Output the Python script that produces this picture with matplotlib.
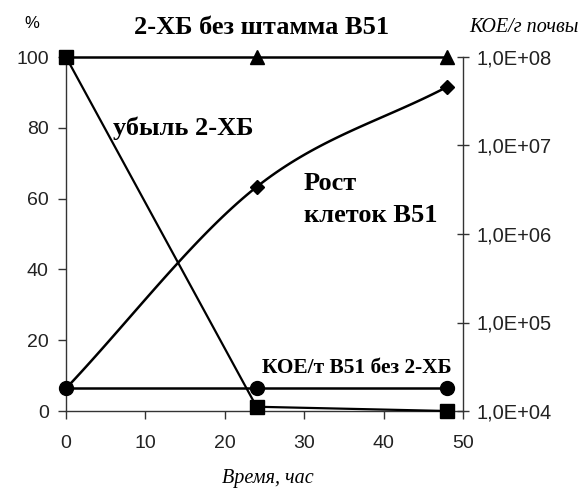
import numpy as np
import matplotlib
matplotlib.use("Agg")
import matplotlib.pyplot as plt
from matplotlib.ticker import FixedLocator, FixedFormatter

# ---- data ----
time_h = [0, 24, 48]
loss_2hb = [100, 1.2, 0.0]          # % (left axis), убыль 2-ХБ
control_2hb = [100, 100, 100]       # % (left axis), 2-ХБ без штамма B51
growth_b51 = [1.8e4, 3.4e6, 4.6e7]  # КОЕ/г (right axis), Рост клеток B51
control_b51 = [1.8e4, 1.8e4, 1.8e4] # КОЕ/г (right axis), B51 без 2-ХБ

left_ticks = [0, 20, 40, 60, 80, 100]
x_ticks = [0, 10, 20, 30, 40, 50]
right_ticks = [1e4, 1e5, 1e6, 1e7, 1e8]
right_labels = ["1,0E+04", "1,0E+05", "1,0E+06", "1,0E+07", "1,0E+08"]


def smooth(xs, ys, n=40):
    # Catmull-Rom style smoothing (like spreadsheet smoothed lines)
    xs = np.asarray(xs, float); ys = np.asarray(ys, float)
    P = np.column_stack([xs, ys])
    pts = [P[0] - (P[1] - P[0])] + list(P) + [P[-1] + (P[-1] - P[-2])]
    out = []
    for i in range(1, len(pts) - 2):
        p0, p1, p2, p3 = pts[i - 1], pts[i], pts[i + 1], pts[i + 2]
        t = np.linspace(0, 1, n)[:, None]
        c = 0.5 * ((2 * p1) + (-p0 + p2) * t + (2 * p0 - 5 * p1 + 4 * p2 - p3) * t ** 2
                   + (-p0 + 3 * p1 - 3 * p2 + p3) * t ** 3)
        out.append(c)
    c = np.vstack(out)
    return c[:, 0], c[:, 1]


fig = plt.figure(figsize=(5.84, 4.92), dpi=100)
ax = fig.add_axes([66 / 584, 1 - 411 / 492, (463 - 66) / 584, (411 - 57) / 492])
ax2 = ax.twinx()

serif = "Liberation Serif"
sans = "Liberation Sans"

# left axis series
ax.plot(time_h, control_2hb, color="black", lw=1.8, zorder=3, clip_on=False)
ax.plot(time_h[1:], control_2hb[1:], ls="none", marker="^", ms=10, color="black",
        zorder=4, clip_on=False)
ax.plot(time_h, loss_2hb, color="black", lw=1.6, marker="s", ms=10, zorder=5, clip_on=False)

# right axis series
lx, ly = smooth(time_h, np.log10(growth_b51))
ax2.plot(lx, 10 ** ly, color="black", lw=1.8, zorder=3, clip_on=False)
ax2.plot(time_h[1:], growth_b51[1:], ls="none", marker="D", ms=7, color="black",
         zorder=4, clip_on=False)
ax2.plot(time_h, control_b51, color="black", lw=1.8, marker="o", ms=10, zorder=4, clip_on=False)

ax.set_xlim(0, 50)
ax.set_ylim(0, 100)
ax2.set_yscale("log")
ax2.set_ylim(1e4, 1e8)

ax.set_xticks(x_ticks)
ax.set_yticks(left_ticks)
ax2.yaxis.set_major_locator(FixedLocator(right_ticks))
ax2.yaxis.set_major_formatter(FixedFormatter(right_labels))
ax2.yaxis.set_minor_locator(FixedLocator([]))

for a in (ax, ax2):
    for s in a.spines.values():
        s.set_color("#333333")
        s.set_linewidth(1.0)
    a.spines["top"].set_visible(False)
ax.spines["right"].set_visible(False)
ax2.spines["left"].set_visible(False)
ax2.spines["bottom"].set_visible(False)

ax.tick_params(axis="x", direction="out", length=6, width=1, color="#333333",
               labelsize=14, pad=11)
ax.tick_params(axis="y", direction="out", length=5.5, width=1, color="#333333",
               labelsize=14, pad=7)
ax2.tick_params(axis="y", direction="inout", length=9, width=1, color="#333333",
                labelsize=14.5, pad=5)
for lab in ax.get_xticklabels() + ax.get_yticklabels() + ax2.get_yticklabels():
    lab.set_fontfamily(sans)
    lab.set_color("#222222")

# texts
fig.text(32 / 584, 1 - 24 / 492, "%", fontsize=12, family=sans, ha="center", va="center")
fig.text(262 / 584, 1 - 28 / 492, "2-ХБ без штамма B51", fontsize=19, family=serif,
         weight="bold", ha="center", va="center")
fig.text(524 / 584, 1 - 28 / 492, "КОЕ/г почвы", fontsize=14.5, family=serif,
         style="italic", ha="center", va="center")
fig.text(113 / 584, 1 - 128 / 492, "убыль 2-ХБ", fontsize=19, family=serif,
         weight="bold", ha="left", va="center")
fig.text(304 / 584, 1 - 183 / 492, "Рост", fontsize=19, family=serif,
         weight="bold", ha="left", va="center")
fig.text(304 / 584, 1 - 215 / 492, "клеток B51", fontsize=19, family=serif,
         weight="bold", ha="left", va="center")
fig.text(452 / 584, 1 - 368 / 492, "КОЕ/т B51 без 2-ХБ", fontsize=15.4, family=serif,
         weight="bold", ha="right", va="center")
fig.text(268 / 584, 1 - 478 / 492, "Время, час", fontsize=14.5, family=serif,
         style="italic", ha="center", va="center")

fig.savefig("out.png", dpi=100)
